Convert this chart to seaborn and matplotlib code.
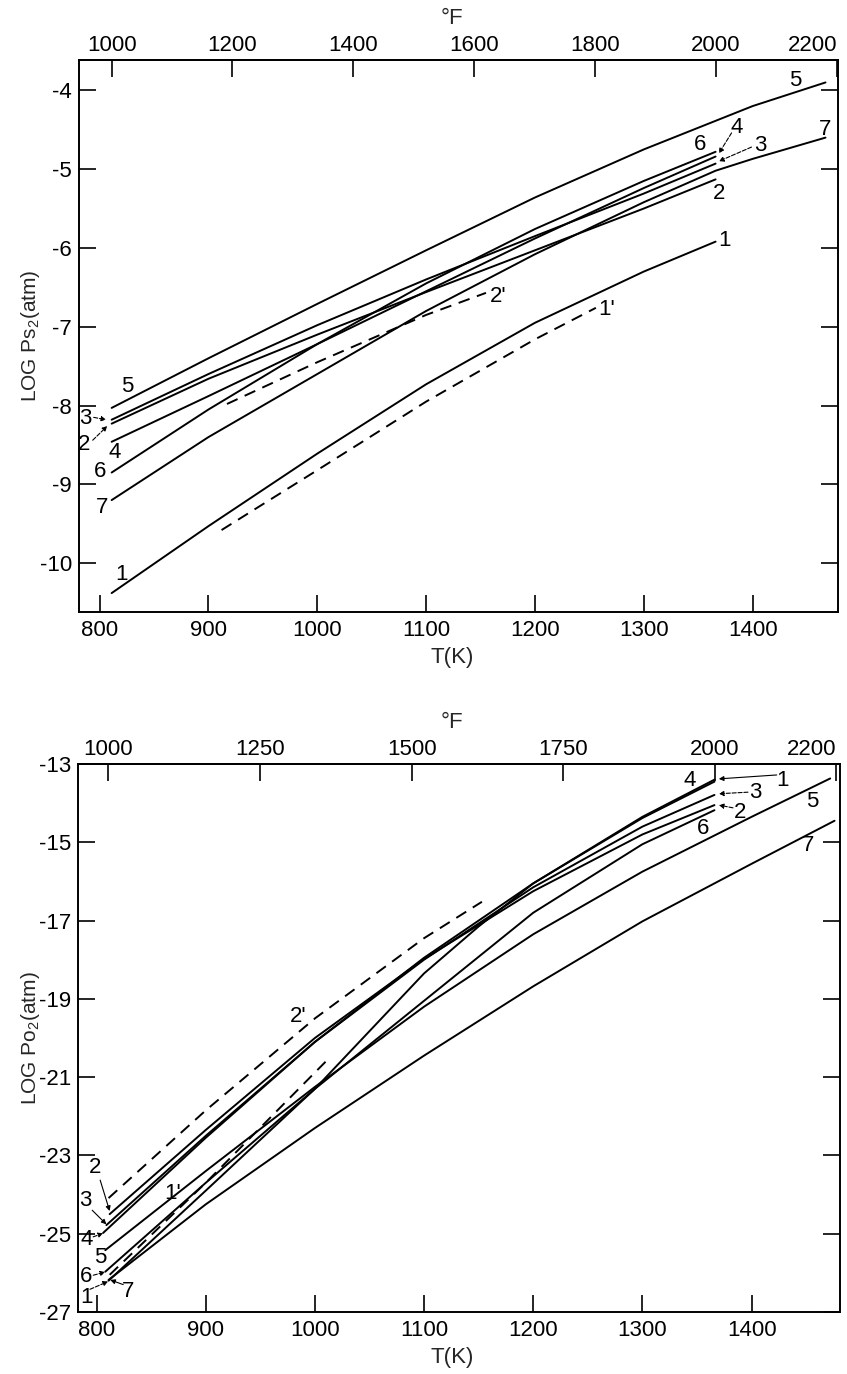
import numpy as np
import matplotlib
matplotlib.use("Agg")
import matplotlib.pyplot as plt
import seaborn as sns

# ---------------- data: upper panel  LOG P_S2 (atm) vs T (K) ----------------
s1_T = [811, 900, 1000, 1100, 1200, 1300, 1366]
s1_V = [-10.38, -9.53, -8.61, -7.73, -6.95, -6.30, -5.92]
s2_T = [811, 900, 1000, 1100, 1200, 1300, 1366]
s2_V = [-8.23, -7.66, -7.10, -6.56, -6.03, -5.50, -5.13]
s3_T = [811, 900, 1000, 1100, 1200, 1300, 1366]
s3_V = [-8.18, -7.60, -6.98, -6.40, -5.85, -5.31, -4.93]
s4_T = [811, 900, 1000, 1100, 1200, 1300, 1366]
s4_V = [-8.46, -7.88, -7.22, -6.55, -5.88, -5.24, -4.84]
s5_T = [811, 900, 1000, 1100, 1200, 1300, 1400, 1467]
s5_V = [-8.03, -7.40, -6.71, -6.03, -5.36, -4.75, -4.20, -3.90]
s6_T = [811, 900, 1000, 1100, 1200, 1300, 1366]
s6_V = [-8.85, -8.05, -7.22, -6.45, -5.76, -5.15, -4.78]
s7_T = [811, 900, 1000, 1100, 1200, 1300, 1366, 1400, 1467]
s7_V = [-9.20, -8.40, -7.60, -6.80, -6.08, -5.42, -5.02, -4.87, -4.60]
s1p_T = [912, 1000, 1100, 1200, 1256]
s1p_V = [-9.58, -8.82, -7.95, -7.16, -6.76]
s2p_T = [917, 1000, 1100, 1155]
s2p_V = [-7.98, -7.45, -6.85, -6.57]

# ---------------- data: lower panel  LOG P_O2 (atm) vs T (K) ----------------
o1_T = [811, 900, 1000, 1100, 1150, 1200, 1300, 1366]
o1_V = [-26.20, -23.90, -21.30, -18.35, -17.15, -16.05, -14.35, -13.40]
o2_T = [812, 900, 1000, 1100, 1200, 1300, 1366]
o2_V = [-24.50, -22.35, -20.00, -17.98, -16.25, -14.80, -14.05]
o3_T = [809, 900, 1000, 1100, 1200, 1300, 1366]
o3_V = [-24.78, -22.50, -20.10, -18.00, -16.15, -14.60, -13.79]
o4_T = [806, 900, 1000, 1100, 1200, 1300, 1366]
o4_V = [-24.98, -22.55, -20.10, -17.95, -16.05, -14.38, -13.45]
o5_T = [808, 900, 1000, 1100, 1200, 1300, 1400, 1472]
o5_V = [-25.42, -23.40, -21.25, -19.20, -17.35, -15.75, -14.35, -13.37]
o6_T = [808, 900, 1000, 1100, 1200, 1300, 1366]
o6_V = [-25.97, -23.70, -21.30, -19.05, -16.80, -15.05, -14.18]
o7_T = [811, 900, 1000, 1100, 1200, 1300, 1400, 1476]
o7_V = [-26.18, -24.25, -22.30, -20.45, -18.68, -17.02, -15.55, -14.45]
o1p_T = [812, 900, 1010]
o1p_V = [-26.05, -23.70, -20.60]
o2p_T = [811, 900, 1000, 1100, 1153]
o2p_V = [-24.09, -21.85, -19.50, -17.45, -16.52]

# tick labels
top_K_ticks = [800, 900, 1000, 1100, 1200, 1300, 1400]
top_F_ticks = [1000, 1200, 1400, 1600, 1800, 2000, 2200]
top_Y_ticks = [-10, -9, -8, -7, -6, -5, -4]
bot_K_ticks = [800, 900, 1000, 1100, 1200, 1300, 1400]
bot_F_ticks = [1000, 1250, 1500, 1750, 2000, 2200]
bot_Y_ticks = [-27, -25, -23, -21, -19, -17, -15, -13]

# ---------------- style ----------------
sns.set_theme(style="ticks")
plt.rcParams['font.family'] = ['Liberation Sans Narrow', 'Liberation Sans', 'DejaVu Sans']
plt.rcParams['axes.unicode_minus'] = False
plt.rcParams['mathtext.fontset'] = 'custom'
plt.rcParams['mathtext.rm'] = 'Liberation Sans'
plt.rcParams['mathtext.it'] = 'Liberation Sans'

W, H = 847, 1374
fig = plt.figure(figsize=(W / 100, H / 100), dpi=100)
fig.patch.set_facecolor('white')


def rect(l, r, t, b):
    return [l / W, 1 - b / H, (r - l) / W, (b - t) / H]


ax1 = fig.add_axes(rect(79, 838, 60, 612))
ax2 = fig.add_axes(rect(78, 840, 764, 1312))

LW = 1.4
DASH = (0, (6, 4))


def draw(ax, T, V, dashed=False):
    sns.lineplot(x=T, y=V, ax=ax, color='black', lw=LW, sort=False,
                 estimator=None, linestyle=DASH if dashed else '-')


for T, V in [(s1_T, s1_V), (s2_T, s2_V), (s3_T, s3_V), (s4_T, s4_V),
             (s5_T, s5_V), (s6_T, s6_V), (s7_T, s7_V)]:
    draw(ax1, T, V)
draw(ax1, s1p_T, s1p_V, True)
draw(ax1, s2p_T, s2p_V, True)

for T, V in [(o1_T, o1_V), (o2_T, o2_V), (o3_T, o3_V), (o4_T, o4_V),
             (o5_T, o5_V), (o6_T, o6_V), (o7_T, o7_V)]:
    draw(ax2, T, V)
draw(ax2, o1p_T, o1p_V, True)
draw(ax2, o2p_T, o2p_V, True)


def k2f(t):
    return np.asarray(t, dtype=float) * 1.8 - 459.67


def f2k(f):
    return (np.asarray(f, dtype=float) + 459.67) / 1.8


FS = 16


def style_axes(ax, xlim, ylim, kt, yt, ft):
    ax.set_xlim(*xlim)
    ax.set_ylim(*ylim)
    ax.set_xticks(kt)
    ax.set_xticklabels([str(k) for k in kt])
    ax.set_yticks(yt)
    ax.set_yticklabels([str(y) for y in yt])
    ax.set_xlabel('')
    ax.set_ylabel('')
    ax.tick_params(axis='both', which='major', direction='in', length=12,
                   width=1.2, labelsize=FS, colors='black', pad=6)
    ax.tick_params(axis='y', right=True, labelright=False, pad=5)
    ax.tick_params(axis='x', top=False)
    for s in ax.spines.values():
        s.set_visible(True)
        s.set_color('black')
        s.set_linewidth(1.4)
    sec = ax.secondary_xaxis('top', functions=(k2f, f2k))
    sec.set_xticks(ft)
    labs = sec.set_xticklabels([str(f) for f in ft])
    labs[-1].set_ha('right')
    sec.tick_params(direction='in', length=12, width=1.2, labelsize=FS, pad=3,
                    colors='black')
    sec.spines['top'].set_linewidth(1.4)
    return sec


style_axes(ax1, (781, 1478.5), (-10.62, -3.615), top_K_ticks, top_Y_ticks, top_F_ticks)
style_axes(ax2, (783, 1481), (-27, -13), bot_K_ticks, bot_Y_ticks, bot_F_ticks)

# ---------------- curve labels ----------------
def lab(ax, x, y, s, ha='center'):
    ax.text(x, y, s, ha=ha, va='center', fontsize=FS, color='black')


def lead(ax, start, end, dashed=True):
    ax.annotate('', xy=end, xytext=start,
                arrowprops=dict(arrowstyle='-|>', color='black', lw=0.8,
                                linestyle='--' if dashed else '-',
                                mutation_scale=7, shrinkA=0, shrinkB=0))


# upper panel, left
lab(ax1, 825, -7.76, '5')
lab(ax1, 787, -8.17, '3')
lead(ax1, (794.5, -8.15), (806, -8.18))
lab(ax1, 786, -8.50, '2')
lead(ax1, (793.6, -8.44), (807, -8.26))
lab(ax1, 814, -8.60, '4')
lab(ax1, 800, -8.84, '6')
lab(ax1, 802, -9.29, '7')
lab(ax1, 820, -10.15, '1')
# upper panel, right
lab(ax1, 1439, -3.87, '5')
lab(ax1, 1467, -4.50, '7')
lab(ax1, 1352, -4.69, '6')
lab(ax1, 1385, -4.47, '4')
lead(ax1, (1380.7, -4.54), (1369, -4.80))
lab(ax1, 1407, -4.70, '3')
lead(ax1, (1399, -4.72), (1369, -4.90))
lab(ax1, 1369, -5.31, '2')
lab(ax1, 1368, -5.90, '1', ha='left')
lab(ax1, 1166, -6.62, "2'")
lab(ax1, 1266, -6.78, "1'")

# lower panel, left
lab(ax2, 798.7, -23.32, '2')
lead(ax2, (803.3, -23.63), (812, -24.42), dashed=False)
lab(ax2, 789.6, -24.14, '3')
lead(ax2, (796, -24.40), (809, -24.76), dashed=False)
lab(ax2, 790.5, -25.16, '4')
lead(ax2, (796.9, -25.08), (806, -24.99))
lab(ax2, 803.3, -25.60, '5')
lab(ax2, 790.5, -26.10, '6')
lead(ax2, (797, -26.06), (808, -25.98))
lab(ax2, 790.5, -26.62, '1')
lead(ax2, (794, -26.42), (810.6, -26.22))
lab(ax2, 829, -26.48, '7')
lead(ax2, (824.4, -26.30), (812.5, -26.18), dashed=False)
lab(ax2, 870, -23.96, "1'")
lab(ax2, 984.6, -19.46, "2'")
# lower panel, right
lab(ax2, 1343.6, -13.41, '4')
lab(ax2, 1428, -13.41, '1')
lead(ax2, (1423, -13.28), (1370, -13.38), dashed=False)
lab(ax2, 1403, -13.72, '3')
lead(ax2, (1396.7, -13.72), (1370, -13.76))
lab(ax2, 1389, -14.23, '2')
lead(ax2, (1383, -14.12), (1370, -14.05))
lab(ax2, 1355.5, -14.64, '6')
lab(ax2, 1456, -13.97, '5')
lab(ax2, 1451.6, -15.07, '7')

# ---------------- axis titles ----------------
fig.text(452 / W, 1 - 18 / H, '°F', ha='center', va='center', fontsize=FS)
fig.text(452 / W, 1 - 658 / H, 'T(K)', ha='center', va='center', fontsize=FS)
fig.text(30 / W, 1 - 336 / H, 'LOG Ps$_2$(atm)', ha='center', va='center',
         rotation=90, fontsize=FS - 1)
fig.text(452 / W, 1 - 722 / H, '°F', ha='center', va='center', fontsize=FS)
fig.text(452 / W, 1 - 1358 / H, 'T(K)', ha='center', va='center', fontsize=FS)
fig.text(30 / W, 1 - 1038 / H, 'LOG Po$_2$(atm)', ha='center', va='center',
         rotation=90, fontsize=FS - 1)

fig.savefig('out.png', dpi=100, facecolor='white')
